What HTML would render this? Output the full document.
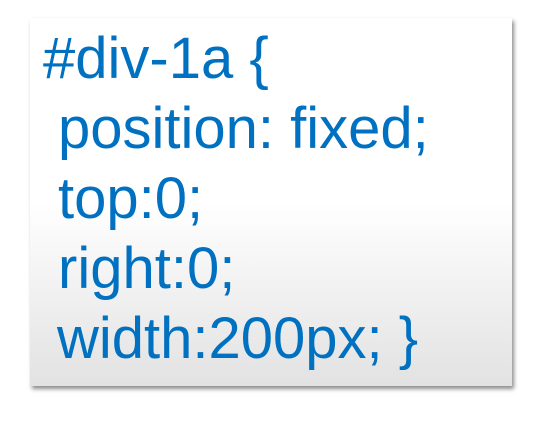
<!DOCTYPE html>
<html><head><style>
html,body{margin:0;padding:0;width:536px;height:422px;background:#fff;overflow:hidden}
.box{position:absolute;left:30px;top:18px;width:482px;height:368px;
background:linear-gradient(to bottom,#fff 0%,#fff 50%,#e2e2e2 100%);
box-shadow:2px 3px 4px rgba(0,0,0,0.45);}
.t{position:absolute;font-family:"Liberation Sans",Arial,sans-serif;font-size:58px;color:#0070c0;white-space:pre;line-height:1}
</style></head><body>
<div class="box"></div>
<div class="t" style="left:43px;top:30px">#div-1a {</div>
<div class="t" style="left:58px;top:100px">position: fixed;</div>
<div class="t" style="left:58px;top:170px">top:0;</div>
<div class="t" style="left:58px;top:240px">right:0;</div>
<div class="t" style="left:57px;top:310px">width:200px; }</div>
</body></html>
